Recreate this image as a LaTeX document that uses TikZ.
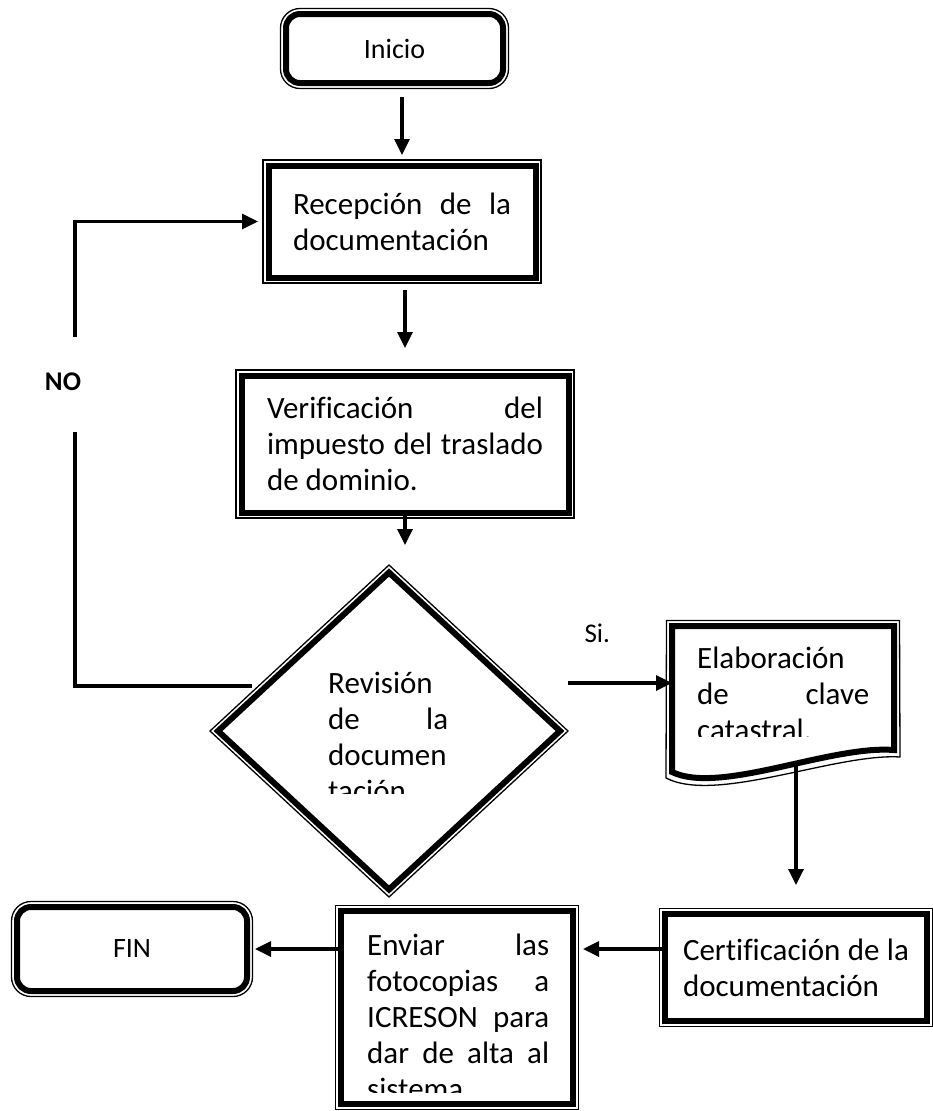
\documentclass[tikz,border=0pt]{standalone}
\usepackage{fontspec}
\setmainfont{Carlito}[Ligatures=CommonOff]
\usetikzlibrary{arrows.meta,shapes.geometric}
\tolerance=10000
\hbadness=10000
\hyphenpenalty=10000

\begin{document}
\begin{tikzpicture}[x=1pt, y=-1pt, font=\fontsize{31}{36}\selectfont,
  box/.style={draw, line width=6pt, inner sep=0pt, outer sep=0pt},
  thinframe/.style={line width=1.3pt},
  link/.style={line width=3.3pt},
  arr/.style={line width=3.3pt, -{Triangle[length=16pt,width=15pt]}}]
	\useasboundingbox (0,0) rectangle (932,1111);
	\node[box, rounded corners=14pt, minimum width=217pt, minimum height=69pt, font=\fontsize{28}{33}\selectfont] (ini) at (394.5,48.5) {Inicio};
	\node[box, minimum width=267pt, minimum height=112pt, text width=218pt, align=justify] (rec) at (402,221.5) {Recepción de la\linebreak documentación};
	\node[box, minimum width=327pt, minimum height=137pt, text width=276pt, align=justify] (ver) at (405,444) {Verificación del\linebreak impuesto del traslado\linebreak de dominio.};
	\node[box, diamond, minimum width=342pt, minimum height=317pt] (rev) at (389,731) {};
	\node[inner sep=0pt, outer sep=0pt, minimum width=222pt, minimum height=146pt] (ela) at (783,699) {};
	\node[box, minimum width=262pt, minimum height=107pt, text width=226pt, align=justify] (cer) at (796,967.5) {Certificación de la\linebreak documentación};
	\node[box, minimum width=232pt, minimum height=193pt] (env) at (457,1007.5) {};
	\node[box, rounded corners=14pt, minimum width=230pt, minimum height=84pt, font=\fontsize{28}{33}\selectfont] (fin) at (132,949) {FIN};
	\draw[line width=6pt] (ela.south west) -- (ela.north west) -- (ela.north east) -- ([shift={(0,-22)}]ela.south east) .. controls +(-64,-5) and +(48,23) .. cycle;
	\draw[thinframe] ([shift={(-6,6)}]ela.south west) -- ([shift={(-5.5,-5.5)}]ela.north west) -- ([shift={(5.5,-5.5)}]ela.north east) -- ([shift={(6,-15)}]ela.south east) .. controls +(-64,-4) and +(50,26) .. cycle;
	\foreach \n in {rec,ver,cer,env}
	  \draw[thinframe] ([shift={(-5.5,-5.5)}]\n.north west) rectangle ([shift={(5.5,5.5)}]\n.south east);
	\foreach \n in {ini,fin}
	  \draw[thinframe, rounded corners=19.5pt] ([shift={(-5.5,-5.5)}]\n.north west) rectangle ([shift={(5.5,5.5)}]\n.south east);
	\draw[thinframe] ([shift={(0,-7.5)}]rev.north) -- ([shift={(8,0)}]rev.east) -- ([shift={(0,7.5)}]rev.south) -- ([shift={(-8,0)}]rev.west) -- cycle;
	\begin{scope}
	  \clip (300,660) rectangle (480,793);
	  \node[anchor=base west, inner sep=0pt, text width=120pt, align=justify] (revtext) at (328,693) {Revisión\linebreak de la\linebreak documen\linebreak tación};
	\end{scope}
	\begin{scope}
	  \clip (676,630) rectangle (890,736);
	  \node[anchor=base west, inner sep=0pt, text width=172pt, align=justify] (elatext) at (697,668) {Elaboración\linebreak de clave\linebreak catastral.};
	\end{scope}
	\begin{scope}
	  \clip (345,915) rectangle (569,1092);
	  \node[anchor=base west, inner sep=0pt, text width=182pt, align=justify] (envtext) at (367,955) {Enviar las\linebreak fotocopias a\linebreak ICRESON para\linebreak dar de alta al\linebreak sistema};
	\end{scope}
	\node[font=\fontsize{27}{32}\selectfont\bfseries] (no) at (63,382) {NO};
	\node[anchor=base west, font=\fontsize{27}{32}\selectfont] (si) at (581,642) {Si.};
	\coordinate (noend) at (252,686);
	\coordinate (siend) at (568,683);
	\draw[arr, shorten <=14pt, shorten >=10.5pt] (ini.south -| rec.north) -- (rec.north);
	\draw[arr, shorten <=12.5pt, shorten >=27.5pt] (rec.south -| ver.north) -- (ver.north);
	\draw[arr, shorten >=27.5pt] (ver.south) -- (ver.south |- rev.north);
	\draw[link] (noend) -| ([shift={(12,50)}]no.center);
	\draw[arr, shorten >=10.5pt] ([shift={(12,-45)}]no.center) |- (rec.west);
	\draw[arr] (siend) -- (siend -| ela.west);
	\draw[arr, shorten <=-6pt, shorten >=29pt] (ela.south -| cer.north) -- (cer.north);
	\draw[arr, shorten >=10pt] (cer.west |- fin.east) -- (env.east |- fin.east);
	\draw[arr, shorten >=8pt] (env.west |- fin.east) -- (fin.east);
\end{tikzpicture}
\end{document}
